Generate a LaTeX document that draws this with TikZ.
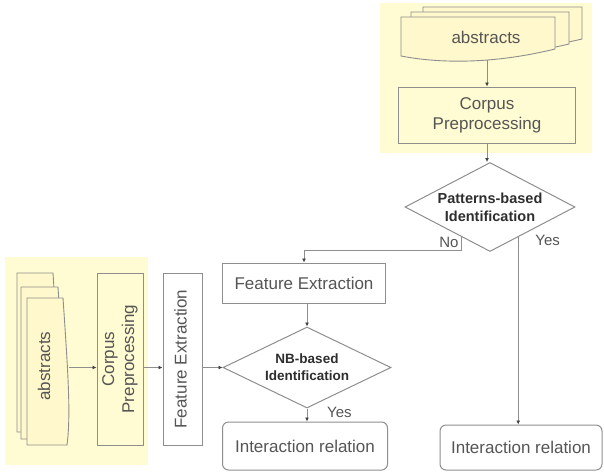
\documentclass[tikz,border=0pt]{standalone}
\usepackage{fontspec}
\setmainfont{Liberation Sans}
\usetikzlibrary{shapes.geometric,arrows.meta,calc}

\definecolor{pad}{HTML}{FFFBD2}
\definecolor{docfill}{HTML}{FFF8CC}
\definecolor{edge}{HTML}{8E8E8E}
\definecolor{tipink}{HTML}{404040}
\definecolor{ink}{HTML}{555555}
\definecolor{boldink}{HTML}{2E2E2E}

% horizontal document symbol, wavy bottom: left, top, right, lowest point
\newcommand\hdocshape[4]{%
  \filldraw[docline] (#1,#2) -- (#3,#2) -- (#3,{#4-13})
    .. controls ({#1+0.55*(#3-#1)},{#4+4}) and ({#1+0.2*(#3-#1)},{#4}) .. (#1,{#4-6}) -- cycle;}
% vertical document symbol, wavy right side: left, top, outermost x, bottom
\newcommand\vdocshape[4]{%
  \filldraw[docline] (#1,#2) -- ({#3-7},#2)
    .. controls ({#3-2},{#2+0.5*(#4-#2)}) and ({#3+1},{#2+0.8*(#4-#2)}) .. ({#3-3},#4)
    -- (#1,#4) -- cycle;}
% text turned to read upwards
\newcommand\upright[1]{\rotatebox{90}{\begin{tabular}{@{}c@{}}#1\end{tabular}}}

\tikzset{
  docline/.style={draw=edge, fill=docfill, line width=0.9pt},
  procbox/.style={draw=edge, line width=1pt, inner sep=0pt, text=ink,
    font=\fontsize{17}{20}\selectfont, align=center},
  endbox/.style={procbox, rounded corners=6pt},
  decide/.style={draw=edge, line width=1pt, diamond, inner sep=0pt},
  decidetext/.style={text=boldink, font=\bfseries\fontsize{14.5}{18}\selectfont, align=center},
  plain/.style={text=ink, font=\fontsize{17}{20}\selectfont, align=center, inner sep=0pt},
  tag/.style={text=ink, font=\fontsize{15}{18}\selectfont, inner sep=0pt},
  flow/.style={draw=edge, line width=1pt, -{Latex[length=4pt,width=4pt,color=tipink,fill=tipink]}},
}

\begin{document}
\begin{tikzpicture}[x=1pt,y=-1pt]
\useasboundingbox (0,0) rectangle (604,472);
\fill[white] (0,0) rectangle (604,472);

% shaded groups
\fill[pad] (380,3) rectangle (592,153);
\fill[pad] (5,257) rectangle (148,465);

% upper input documents
\hdocshape{423}{7}{582}{52}
\hdocshape{411}{12}{569}{57}
\hdocshape{401}{17}{555}{62}
\node[plain] (tDoc) at (486,37) {abstracts};
\coordinate (tDocB) at (487,60);

\node[procbox, fill=pad, minimum width=177pt, minimum height=56pt] (tCorpus) at (487,115)
  {Corpus\\Preprocessing};

\node[decide, minimum width=170pt, minimum height=89pt] (pat) at (490,207) {};
\node[decidetext] (patText) at (pat) {Patterns-based\\Identification};

% lower-left input documents
\vdocshape{17}{273}{60}{432}
\vdocshape{21}{287}{65}{439}
\vdocshape{27}{298}{70}{445}
\node[plain] (lDoc) at (46,366) {\upright{abstracts}};
\coordinate (lDocR) at (69,367.5);

\node[procbox, fill=pad, minimum width=46pt, minimum height=172pt] (lCorpus) at (120,359)
  {\upright{Corpus\\Preprocessing}};
\node[procbox, fill=white, minimum width=39pt, minimum height=172pt] (vFeat) at (182.5,359)
  {\upright{Feature Extraction}};

\node[procbox, minimum width=163pt, minimum height=40pt] (feat) at (304,283) {Feature Extraction};
\node[decide, minimum width=168pt, minimum height=81pt] (nb) at (307,367.5) {};
\node[decidetext, font=\bfseries\fontsize{13.5}{17}\selectfont] (nbText) at (nb) {NB-based\\Identification};

\node[endbox, minimum width=165pt, minimum height=48pt] (irL) at (305,446) {Interaction relation};
\node[endbox, minimum width=162pt, minimum height=45pt] (irR) at (521,447.5) {Interaction relation};

% connectors
\draw[flow] (tDocB) -- (tDocB |- tCorpus.north);
\draw[flow] (tCorpus.south) -- (tCorpus.south |- pat.north);

\coordinate (noOut) at ($(pat.west)!0.67!(pat.south)$);
\draw[flow] (noOut) -- ++(0,13) -| (feat.north);
\node[tag, anchor=south east] (noTag) at ($(noOut)+(-3,11)$) {No};

\coordinate (yesOut) at ($(pat.south)!0.33!(pat.east)$);
\draw[flow] (yesOut) -- (yesOut |- irR.north);
\node[tag, anchor=west] (yesTagR) at ($(yesOut)+(17,3)$) {Yes};

\draw[flow] (lDocR) -- (lCorpus.west |- lDocR);
\draw[flow] (lCorpus.east |- nb.west) -- (vFeat.west |- nb.west);
\draw[flow] (vFeat.east |- nb.west) -- (nb.west);

\draw[flow] (feat.south -| nb.north) -- (nb.north);
\draw[flow] (nb.south) -- (nb.south |- irL.north);
\node[tag, anchor=west] (yesTagL) at ($(nb.south)+(20,4)$) {Yes};
\end{tikzpicture}
\end{document}
